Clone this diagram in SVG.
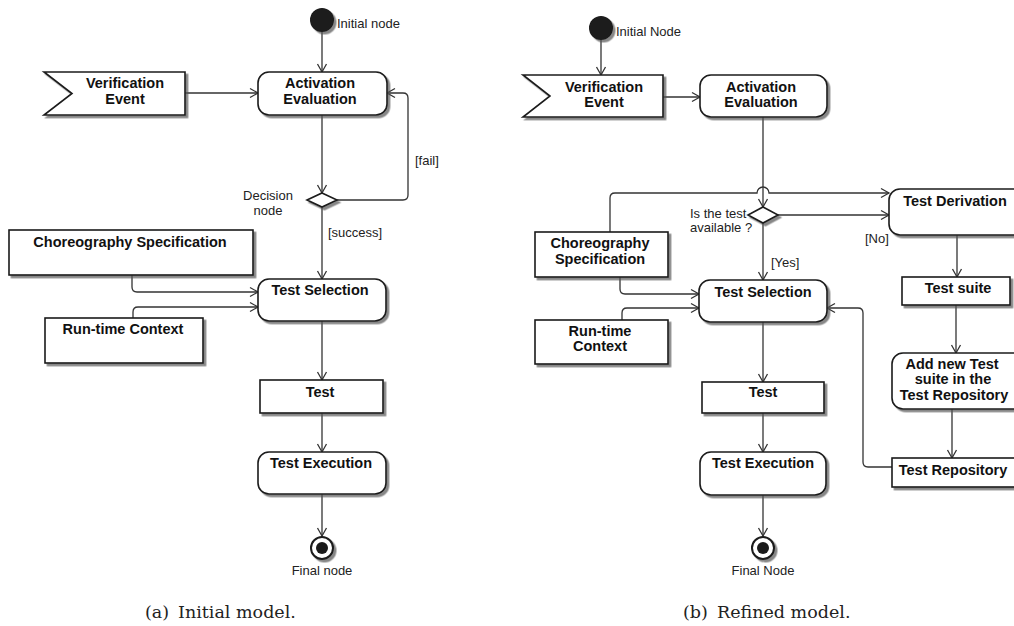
<svg xmlns="http://www.w3.org/2000/svg" width="1014" height="626" viewBox="0 0 1014 626">
<style>
  .bg{fill:#fff}
  .box{fill:#fff;stroke:#1a1a1a;stroke-width:1.6;filter:url(#sh)}
  .t{font-family:"Liberation Sans",Arial,sans-serif;font-weight:bold;font-size:14.5px;fill:#111;text-anchor:middle}
  .l{font-family:"Liberation Sans",Arial,sans-serif;font-size:13px;fill:#222}
  .edge{fill:none;stroke:#333;stroke-width:1.3;marker-end:url(#arr)}
  .plain{fill:none;stroke:#333;stroke-width:1.3}
  .cap{font-family:"DejaVu Serif","Liberation Serif",serif;font-size:17.5px;fill:#222}
  .init{fill:#1a1a1a;filter:url(#sh)}
</style>
<defs>
  <filter id="sh" x="-20%" y="-20%" width="150%" height="160%">
    <feDropShadow dx="2.5" dy="2.5" stdDeviation="0.7" flood-color="#555" flood-opacity="0.7"/>
  </filter>
  <marker id="arr" markerUnits="userSpaceOnUse" markerWidth="12" markerHeight="12" viewBox="-1 -1 12 12" refX="9" refY="5" orient="auto">
    <path d="M1,0.5 L9,5 L1,9.5" fill="none" stroke="#333" stroke-width="1.3"/>
  </marker>
</defs>
<rect class="bg" x="0" y="0" width="1014" height="626"/>

<g id="connectors">
  <!-- left -->
  <path class="edge" d="M322,32 V72"/>
  <path class="edge" d="M185,93 H258"/>
  <path class="edge" d="M322,115 V193"/>
  <path class="edge" d="M337,200 H403 Q408,200 408,195 V98 Q408,93 403,93 H387"/>
  <path class="edge" d="M322,207 V279"/>
  <path class="edge" d="M132,275 V287 Q132,292 137,292 H258"/>
  <path class="edge" d="M133,318 V312 Q133,307 138,307 H258"/>
  <path class="edge" d="M322,321 V380"/>
  <path class="edge" d="M322,413 V452"/>
  <path class="edge" d="M322,494 V536"/>
  <!-- right -->
  <path class="edge" d="M601,40 V75"/>
  <path class="edge" d="M663,97 H700"/>
  <path class="edge" d="M763,117 V207"/>
  <path class="edge" d="M610,232 V198 Q610,193 615,193 H757 A6,6 0 0 1 769,193 H889"/>
  <path class="edge" d="M778,215 H889"/>
  <path class="edge" d="M763,223 V280"/>
  <path class="edge" d="M620,277 V289 Q620,294 625,294 H699"/>
  <path class="edge" d="M622,320 V313 Q622,308 627,308 H699"/>
  <path class="edge" d="M892,467 H868 Q863,467 863,462 V313 Q863,308 858,308 H827"/>
  <path class="edge" d="M763,322 V382"/>
  <path class="edge" d="M763,413 V452"/>
  <path class="edge" d="M763,495 V536"/>
  <path class="edge" d="M957,235 V277"/>
  <path class="edge" d="M956,305 V353"/>
  <path class="edge" d="M952,409 V458"/>
</g>

<!-- Left diagram: Initial model -->
<g id="a-initial"><circle class="init" cx="322" cy="20" r="12"/><text class="l" x="337" y="28">Initial node</text></g>
<g id="a-verification-event"><polygon class="box" points="44,72 185,72 185,115 44,115 72,93.5"/><text class="t" x="125" y="88">Verification</text><text class="t" x="125" y="104">Event</text></g>
<g id="a-activation"><rect class="box" x="258" y="72" width="129" height="43" rx="11"/><text class="t" x="320" y="88">Activation</text><text class="t" x="320" y="104">Evaluation</text></g>
<g id="a-decision"><polygon class="box" points="322,193 337,200 322,207 307,200"/><text class="l" x="268" y="200" text-anchor="middle">Decision</text><text class="l" x="268" y="215" text-anchor="middle">node</text></g>
<g id="a-choreography"><rect class="box" x="9" y="230" width="244" height="45"/><text class="t" x="130" y="247">Choreography Specification</text></g>
<g id="a-runtime"><rect class="box" x="45" y="318" width="158" height="45"/><text class="t" x="123" y="334">Run-time Context</text></g>
<g id="a-test-selection"><rect class="box" x="258" y="279" width="128" height="42" rx="11"/><text class="t" x="320" y="295">Test Selection</text></g>
<g id="a-test"><rect class="box" x="260" y="380" width="123" height="33"/><text class="t" x="320" y="397">Test</text></g>
<g id="a-test-execution"><rect class="box" x="258" y="452" width="128" height="42" rx="11"/><text class="t" x="321" y="468">Test Execution</text></g>
<g id="a-final"><circle cx="322" cy="548" r="11" fill="#fff" stroke="#1a1a1a" stroke-width="2" filter="url(#sh)"/><circle cx="322" cy="548" r="6" fill="#1a1a1a"/><text class="l" x="322" y="575" text-anchor="middle">Final node</text></g>
<g id="a-labels"><text class="l" x="415" y="165">[fail]</text><text class="l" x="328" y="237">[success]</text></g>
<text class="cap" x="145" y="618">(a)<tspan x="178">Initial model.</tspan></text>

<!-- Right diagram: Refined model -->
<g id="b-initial"><circle class="init" cx="601" cy="28" r="12"/><text class="l" x="616" y="36">Initial Node</text></g>
<g id="b-verification-event"><polygon class="box" points="523,75 663,75 663,117 523,117 550,96"/><text class="t" x="604" y="92">Verification</text><text class="t" x="604" y="107">Event</text></g>
<g id="b-activation"><rect class="box" x="700" y="75" width="127" height="42" rx="11"/><text class="t" x="761" y="92">Activation</text><text class="t" x="761" y="107">Evaluation</text></g>
<g id="b-decision"><polygon class="box" points="763,207 778,215 763,223 748,215"/><text class="l" x="690" y="218">Is the test</text><text class="l" x="690" y="232">available ?</text></g>
<g id="b-test-derivation"><rect class="box" x="889" y="189" width="140" height="46" rx="11"/><text class="t" x="955" y="206">Test Derivation</text></g>
<g id="b-choreography"><rect class="box" x="535" y="232" width="133" height="45"/><text class="t" x="600" y="248">Choreography</text><text class="t" x="600" y="264">Specification</text></g>
<g id="b-runtime"><rect class="box" x="535" y="320" width="133" height="44"/><text class="t" x="600" y="336">Run-time</text><text class="t" x="600" y="351">Context</text></g>
<g id="b-test-selection"><rect class="box" x="699" y="280" width="128" height="42" rx="11"/><text class="t" x="763" y="297">Test Selection</text></g>
<g id="b-test"><rect class="box" x="702" y="382" width="122" height="31"/><text class="t" x="763" y="397">Test</text></g>
<g id="b-test-execution"><rect class="box" x="700" y="452" width="126" height="43" rx="11"/><text class="t" x="763" y="468">Test Execution</text></g>
<g id="b-final"><circle cx="763" cy="548" r="11" fill="#fff" stroke="#1a1a1a" stroke-width="2" filter="url(#sh)"/><circle cx="763" cy="548" r="6" fill="#1a1a1a"/><text class="l" x="763" y="575" text-anchor="middle">Final Node</text></g>
<g id="b-test-suite"><rect class="box" x="902" y="277" width="108" height="28"/><text class="t" x="958" y="293">Test suite</text></g>
<g id="b-add-suite"><rect class="box" x="892" y="353" width="135" height="56" rx="11"/><text class="t" x="952" y="369">Add new Test</text><text class="t" x="953" y="384">suite in the</text><text class="t" x="954" y="400">Test Repository</text></g>
<g id="b-test-repository"><rect class="box" x="892" y="458" width="135" height="29"/><text class="t" x="953" y="475">Test Repository</text></g>
<g id="b-labels"><text class="l" x="865" y="243">[No]</text><text class="l" x="771" y="267">[Yes]</text></g>
<text class="cap" x="683" y="618">(b)<tspan x="717">Refined model.</tspan></text>
</svg>
